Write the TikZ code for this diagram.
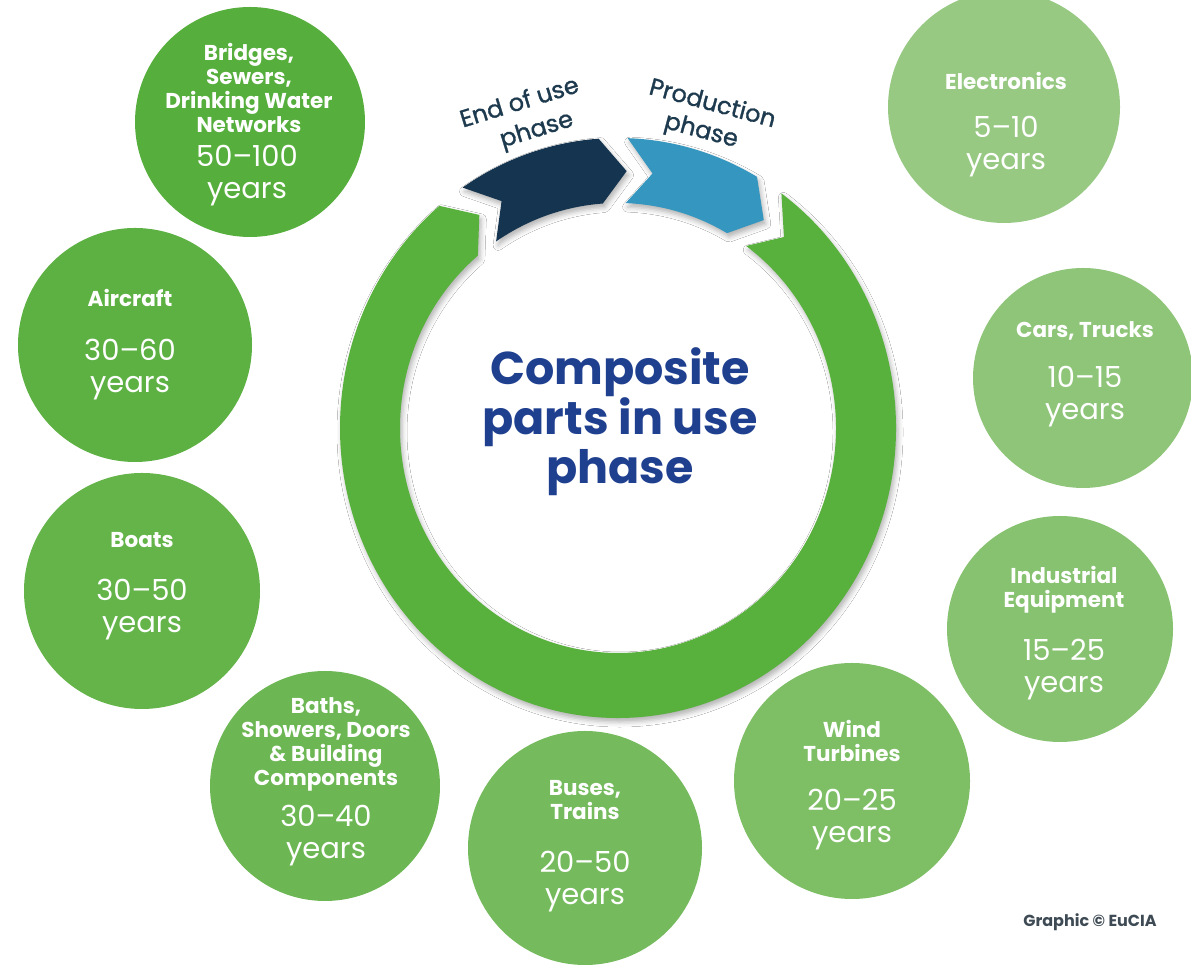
\documentclass[tikz,border=0pt]{standalone}
\usepackage{fontspec}
\setmainfont{Poppins}
\newfontfamily\medfont{Poppins}[FakeBold=1.2]
\usetikzlibrary{calc,shadows.blur}

\definecolor{ringgreen}{HTML}{58B13C}
\definecolor{darkarrow}{HTML}{14344F}
\definecolor{bluearrow}{HTML}{3597BF}
\definecolor{labelink}{HTML}{1D3A4E}
\definecolor{centerblue}{HTML}{1F3F8F}
\definecolor{creditink}{HTML}{3E4A54}
\definecolor{gBridges}{HTML}{56AE3C}
\definecolor{gAircraft}{HTML}{5DB143}
\definecolor{gBoats}{HTML}{64B44A}
\definecolor{gBaths}{HTML}{6CB753}
\definecolor{gBuses}{HTML}{75BB5D}
\definecolor{gWind}{HTML}{7EBF66}
\definecolor{gIndustrial}{HTML}{87C270}
\definecolor{gCars}{HTML}{8EC578}
\definecolor{gElectronics}{HTML}{97C983}

\tikzset{
  bubble/.style={circle, inner sep=0pt, draw=none, minimum size=#1},
  lbl/.style={text=white, font=\fontsize{21.5}{24}\selectfont\bfseries, align=center, inner sep=0pt},
  yrs/.style={text=white, font=\fontsize{29}{32}\selectfont, align=center, inner sep=0pt},
  seg/.style={blur shadow={shadow xshift=2pt, shadow yshift=-4pt, shadow blur radius=5pt, shadow opacity=30}},
  phaselbl/.style={text=labelink, font=\fontsize{24}{24}\selectfont\medfont, inner sep=0pt},
}

\begin{document}
\begin{tikzpicture}[x=1pt,y=1pt]
\useasboundingbox (0,0) rectangle (1191,965);
\fill[white] (0,0) rectangle (1191,965);

% ---- satellite circles ----
\node[bubble=230pt, fill=gBridges] (cBridges) at (250,843) {};
\node[bubble=232pt, fill=gElectronics] (cElectronics) at (1004,858) {};
\node[bubble=234pt, fill=gAircraft] (cAircraft) at (135,620) {};
\node[bubble=220pt, fill=gCars] (cCars) at (1083,587) {};
\node[bubble=236pt, fill=gBoats] (cBoats) at (142,374) {};
\node[bubble=226pt, fill=gIndustrial] (cIndustrial) at (1060,336) {};
\node[bubble=230pt, fill=gBaths] (cBaths) at (325,179) {};
\node[bubble=234pt, fill=gBuses] (cBuses) at (585,117) {};
\node[bubble=236pt, fill=gWind] (cWind) at (852,184) {};

\node[lbl] (tBridges) at (249,877) {Bridges,\\Sewers,\\Drinking Water\\Networks};
\node[yrs] (yBridges) at (247,789) {50–100\\years};
\node[lbl] (tElectronics) at (1006,884) {Electronics};
\node[yrs] (yElectronics) at (1006,818) {5–10\\years};
\node[lbl] (tAircraft) at (130,667) {Aircraft};
\node[yrs] (yAircraft) at (130,595) {30–60\\years};
\node[lbl] (tCars) at (1085,634) {Cars, Trucks};
\node[yrs] (yCars) at (1085,568) {10–15\\years};
\node[lbl] (tBoats) at (142,425) {Boats};
\node[yrs] (yBoats) at (142,355) {30–50\\years};
\node[lbl] (tIndustrial) at (1064,375) {Industrial\\Equipment};
\node[yrs] (yIndustrial) at (1064,295) {15–25\\years};
\node[lbl] (tBaths) at (326,221) {Baths,\\Showers, Doors\\\& Building\\Components};
\node[yrs] (yBaths) at (326,129) {30–40\\years};
\node[lbl] (tBuses) at (585,165) {Buses,\\Trains};
\node[yrs] (yBuses) at (585,83) {20–50\\years};
\node[lbl] (tWind) at (852,224) {Wind\\Turbines};
\node[yrs] (yWind) at (852,145) {20–25\\years};

% ---- central cycle ----
\coordinate (C) at (618,537);
\fill[ringgreen, seg]
  ($(C)+(54:278 and 290)$) arc[start angle=54, end angle=-230, x radius=278, y radius=290]
  -- ($(C)+(-236:248 and 257)$)
  -- ($(C)+(-230:218 and 225)$) arc[start angle=-230, end angle=54, x radius=218, y radius=225]
  -- ($(C)+(48:248 and 257)$) -- cycle;
\fill[darkarrow, seg]
  ($(C)+(124:278 and 290)$) arc[start angle=124, end angle=94, x radius=278, y radius=290]
  -- ($(C)+(88:248 and 257)$)
  -- ($(C)+(94:218 and 225)$) arc[start angle=94, end angle=124, x radius=218, y radius=225]
  -- ($(C)+(118:248 and 257)$) -- cycle;
\fill[bluearrow, seg]
  ($(C)+(88:278 and 290)$) arc[start angle=88, end angle=60, x radius=278, y radius=290]
  -- ($(C)+(54:248 and 257)$)
  -- ($(C)+(60:218 and 225)$) arc[start angle=60, end angle=88, x radius=218, y radius=225]
  -- ($(C)+(82:248 and 257)$) -- cycle;

\node[phaselbl, rotate=17] (tEnd) at (519,864) {End of use};
\node[phaselbl, rotate=17] (tEndB) at (537,834) {phase};
\node[phaselbl, rotate=-15] (tProd) at (713,863) {Production};
\node[phaselbl, rotate=-15] (tProdB) at (701,833) {phase};

\node[text=centerblue, font=\fontsize{46}{49}\selectfont\bfseries, align=center] (title) at (620,543) {Composite\\parts in use\\phase};

\node[text=creditink, font=\fontsize{16}{16}\selectfont\bfseries] (credit) at (1090,43) {Graphic © EuCIA};
\end{tikzpicture}
\end{document}
